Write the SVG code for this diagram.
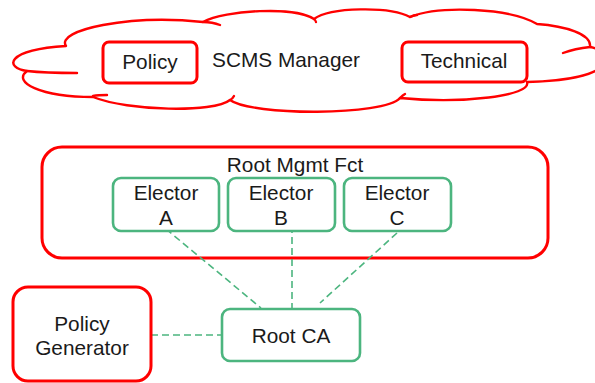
<svg xmlns="http://www.w3.org/2000/svg" width="595" height="383" viewBox="0 0 595 383">
  <style>
    .red { fill: #ffffff; stroke: #ff0000; stroke-width: 3; }
    .grn { fill: #ffffff; stroke: #4cb57f; stroke-width: 2.6; }
    .cloud { fill: #ffffff; stroke: #ff0000; stroke-width: 2.4; stroke-linecap: round; stroke-linejoin: round; }
    .tail { fill: none; stroke: #ff0000; stroke-width: 2.4; stroke-linecap: round; }
    .lbl { font-family: "Liberation Sans", Arial, sans-serif; font-size: 20.8px; fill: #1a1a1a; text-anchor: middle; }
    .dash { fill: none; stroke: #4cb57f; stroke-width: 1.6; stroke-dasharray: 7 4; }
  </style>
  <rect width="595" height="383" fill="#ffffff"/>

  <!-- SCMS Manager cloud -->
  <g id="scms-manager">
    <path class="cloud" d="M27,71
      C5,68 4,50 66,46
      C55,30 130,14 203,22
      C225,10 295,6 314,19
      C330,7 390,6 410,17
      C440,5 510,8 537,24
      C565,26 592,34 590,47
      C618,52 618,80 527,82
      C532,96 462,104 400,98
      C384,116 252,116 230,100
      C214,113 128,111 93,97
      C40,97 12,82 27,71 Z"/>
    <path class="tail" d="M27,71 C45,73 62,73 77,73"/>
    <path class="tail" d="M93,96 C98,95 103,95 107,95"/>
    <path class="tail" d="M203,22 C209,22 215,23 220,25"/>
    <path class="tail" d="M230,100 C232,99 233,98 234,96"/>
    <path class="tail" d="M314,19 C315,20 316,21 316,22"/>
    <path class="tail" d="M410,17 C412,16 414,15 417,15"/>
    <path class="tail" d="M563,53 C571,50 580,48 590,47"/>
    <path class="tail" d="M400,98 C402,96 403,95 405,94"/>
    <text class="lbl" x="286" y="67">SCMS Manager</text>
  </g>

  <g id="policy">
    <rect class="red" x="103" y="42" width="94" height="41" rx="6"/>
    <text class="lbl" x="150" y="69">Policy</text>
  </g>

  <g id="technical">
    <rect class="red" x="402" y="42" width="125" height="40" rx="6"/>
    <text class="lbl" x="464" y="68">Technical</text>
  </g>

  <!-- Root management function container -->
  <g id="root-mgmt-fct">
    <rect class="red" x="42" y="147" width="506" height="111" rx="20"/>
    <text class="lbl" x="295" y="172">Root Mgmt Fct</text>
  </g>

  <!-- Connectors -->
  <g id="connectors">
    <line class="dash" x1="166" y1="229" x2="261" y2="308"/>
    <line class="dash" x1="292" y1="226" x2="292" y2="308"/>
    <line class="dash" x1="397" y1="233" x2="320" y2="303"/>
    <line class="dash" x1="151" y1="335" x2="222" y2="335"/>
  </g>

  <g id="elector-a">
    <rect class="grn" x="113" y="178" width="106" height="53" rx="8"/>
    <text class="lbl" x="166" y="200">Elector</text>
    <text class="lbl" x="166" y="225">A</text>
  </g>

  <g id="elector-b">
    <rect class="grn" x="228" y="178" width="107" height="53" rx="8"/>
    <text class="lbl" x="281" y="200">Elector</text>
    <text class="lbl" x="281" y="225">B</text>
  </g>

  <g id="elector-c">
    <rect class="grn" x="344" y="178" width="107" height="53" rx="8"/>
    <text class="lbl" x="397" y="200">Elector</text>
    <text class="lbl" x="397" y="225">C</text>
  </g>

  <g id="root-ca">
    <rect class="grn" x="222" y="309" width="138" height="52" rx="8"/>
    <text class="lbl" x="291" y="343">Root CA</text>
  </g>

  <g id="policy-generator">
    <rect class="red" x="13" y="287" width="138" height="94" rx="15"/>
    <text class="lbl" x="82" y="331">Policy</text>
    <text class="lbl" x="82" y="355">Generator</text>
  </g>
</svg>
